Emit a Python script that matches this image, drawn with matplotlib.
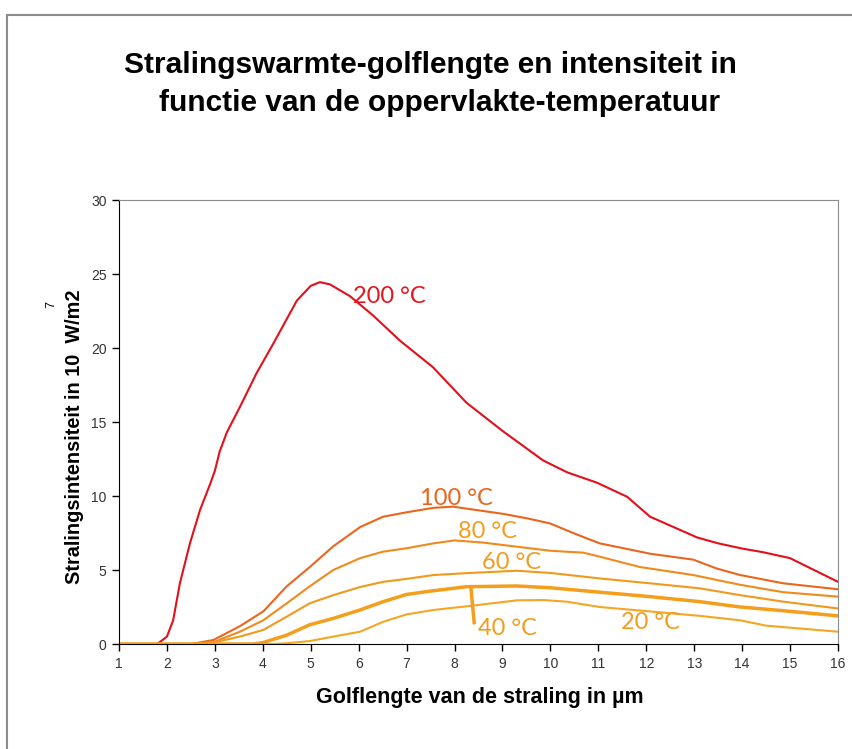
import matplotlib.pyplot as plt
from matplotlib import font_manager
from matplotlib.patches import Rectangle

# golflengte (um) en intensiteit per temperatuur
x_200 = [1, 1.8, 2.0, 2.13, 2.27, 2.48, 2.69, 2.9, 3.0, 3.1, 3.25, 3.52, 3.87, 4.22, 4.71, 5.0, 5.19, 5.4, 5.82, 6.3, 6.86, 7.55, 8.25, 9.0, 9.85, 10.35, 10.97, 11.6, 12.08, 13.06, 13.5, 14.0, 14.44, 15.0, 15.5, 16]
y_200 = [0, 0, 0.5, 1.6, 4.1, 6.8, 9.05, 10.8, 11.7, 13.0, 14.3, 16.0, 18.3, 20.3, 23.2, 24.2, 24.45, 24.3, 23.5, 22.2, 20.5, 18.7, 16.3, 14.4, 12.4, 11.6, 10.9, 9.95, 8.6, 7.2, 6.8, 6.45, 6.2, 5.8, 5.0, 4.2]

x_100 = [1, 2.5, 2.97, 3.52, 4.01, 4.5, 4.98, 5.47, 6.03, 6.51, 7.0, 7.56, 7.97, 8.46, 9.0, 9.5, 9.99, 10.55, 11.03, 12.08, 12.98, 13.47, 13.96, 14.86, 16]
y_100 = [0, 0, 0.27, 1.2, 2.2, 3.9, 5.2, 6.6, 7.9, 8.6, 8.9, 9.2, 9.28, 9.05, 8.8, 8.5, 8.15, 7.4, 6.8, 6.1, 5.7, 5.1, 4.66, 4.1, 3.7]

x_80 = [1, 2.5, 2.97, 3.52, 4.01, 4.5, 4.98, 5.47, 6.03, 6.51, 7.0, 7.56, 8.0, 8.6, 10.0, 10.69, 11.03, 11.87, 12.98, 13.96, 14.86, 16]
y_80 = [0, 0, 0.12, 0.83, 1.6, 2.75, 3.9, 5.0, 5.8, 6.24, 6.47, 6.8, 7.0, 6.85, 6.3, 6.17, 5.9, 5.2, 4.66, 4.0, 3.5, 3.2]

x_60 = [1, 2.5, 2.97, 3.52, 4.01, 4.5, 4.98, 5.47, 6.03, 6.51, 7.0, 7.56, 8.32, 9.3, 10.0, 11.03, 12.08, 13.12, 13.96, 14.86, 16]
y_60 = [0, 0, 0.1, 0.5, 0.95, 1.85, 2.75, 3.3, 3.85, 4.2, 4.4, 4.66, 4.8, 4.95, 4.8, 4.43, 4.1, 3.76, 3.3, 2.86, 2.4]

x_40 = [1, 3.8, 4.01, 4.5, 4.98, 5.47, 6.03, 6.51, 7.0, 7.56, 8.25, 9.3, 10.0, 11.03, 12.08, 13.12, 13.96, 14.86, 16]
y_40 = [0, 0, 0.1, 0.6, 1.3, 1.73, 2.3, 2.86, 3.35, 3.6, 3.87, 3.92, 3.8, 3.5, 3.2, 2.86, 2.5, 2.25, 1.9]

x_20 = [1, 4.2, 4.5, 4.98, 5.47, 6.03, 6.51, 7.0, 7.56, 8.32, 9.3, 9.85, 10.34, 11.03, 12.08, 13.12, 13.96, 14.5, 16]
y_20 = [0, 0, 0.05, 0.2, 0.5, 0.83, 1.5, 2.0, 2.3, 2.57, 2.95, 2.97, 2.86, 2.5, 2.2, 1.9, 1.6, 1.24, 0.83]

labels = ['200 °C', '100 °C', '80 °C', '60 °C', '40 °C', '20 °C']
label_x = [6.65, 8.05, 8.68, 9.2, 9.11, 12.08]
label_y = [23.5, 9.86, 7.57, 5.54, 1.08, 1.42]

xticks = list(range(1, 17))
yticks = [0, 5, 10, 15, 20, 25, 30]

names = {f.name for f in font_manager.fontManager.ttflist}
tickfont = 'Liberation Sans Narrow' if 'Liberation Sans Narrow' in names else 'Liberation Sans'

fig = plt.figure(figsize=(8.53, 7.49), dpi=100)
fig.patches.append(Rectangle((7/853, -0.1), 1.2, 1 - 15/749 + 0.1, transform=fig.transFigure,
                             fill=False, edgecolor='#8c8c8c', linewidth=1.5))
ax = fig.add_axes([119/853, 1 - 644/749, (838 - 119)/853, (644 - 200)/749])

ax.plot(x_200, y_200, color='#e3101b', lw=1.5)
ax.plot(x_100, y_100, color='#ea661e', lw=1.5)
ax.plot(x_80, y_80, color='#f08a1c', lw=1.5)
ax.plot(x_60, y_60, color='#f2981c', lw=1.5)
ax.plot(x_40, y_40, color='#f59e1b', lw=2.5)
ax.plot(x_20, y_20, color='#f5a623', lw=1.5)
# verbindingslijn naar label 40 °C
ax.plot([8.34, 8.41], [3.87, 1.44], color='#f59e1b', lw=2.5)

colors = ['#e8121e', '#e8641c', '#f39c1e', '#f39c1e', '#f39c1e', '#f39c1e']
for t, lx, ly, c in zip(labels, label_x, label_y, colors):
    ax.text(lx, ly, t, color=c, fontsize=17, family='Lato', ha='center', va='center')

ax.set_xlim(1, 16)
ax.set_ylim(0, 30)
ax.set_xticks(xticks)
ax.set_yticks(yticks)
ax.tick_params(direction='out', length=5, width=1, colors='black', labelcolor='#333333',
               labelsize=10, pad=4)
for lab in ax.get_xticklabels() + ax.get_yticklabels():
    lab.set_family(tickfont)
for s in ['top', 'right']:
    ax.spines[s].set_color('#8c8c8c')
for s in ['left', 'bottom']:
    ax.spines[s].set_color('black')

fig.text(430/853, 1 - 65/749, 'Stralingswarmte-golflengte en intensiteit in', ha='center', va='center',
         fontsize=21.5, fontweight='bold', family='Liberation Sans')
fig.text(440/853, 1 - 103/749, 'functie van de oppervlakte-temperatuur', ha='center', va='center',
         fontsize=21.5, fontweight='bold', family='Liberation Sans')
fig.text(480/853, 1 - 697/749, 'Golflengte van de straling in µm', ha='center', va='center',
         fontsize=15.5, fontweight='bold', family='Liberation Sans')
fig.text(75/853, 1 - 437/749, 'Stralingsintensiteit in 10  W/m2', ha='center', va='center',
         rotation=90, fontsize=14.3, fontweight='bold', family='Liberation Sans')
fig.text(51/853, 1 - 305/749, '7', ha='center', va='center', rotation=90,
         fontsize=9, family='Liberation Sans')

fig.savefig('out.png', dpi=100)
